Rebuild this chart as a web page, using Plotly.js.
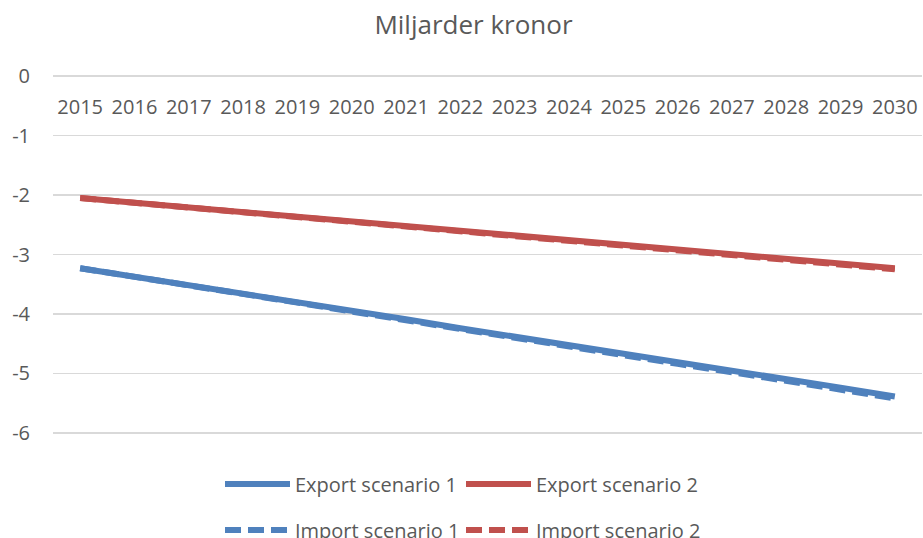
<!DOCTYPE html>
<html>
<head>
<meta charset="utf-8">
<script src="https://cdn.plot.ly/plotly-3.0.1.min.js"></script>
<style>html,body{margin:0;padding:0;background:#fff;}#chart{width:923px;height:538px;}</style>
</head>
<body>
<div id="chart"></div>
<script>
var years = ['2015','2016','2017','2018','2019','2020','2021','2022','2023','2024','2025','2026','2027','2028','2029','2030'];
var exportScenario1 = [-3.23,-3.37,-3.52,-3.66,-3.80,-3.95,-4.09,-4.24,-4.38,-4.52,-4.67,-4.81,-4.96,-5.10,-5.24,-5.39];
var importScenario1 = [-3.23,-3.37,-3.52,-3.67,-3.81,-3.96,-4.11,-4.25,-4.40,-4.54,-4.69,-4.84,-4.98,-5.13,-5.27,-5.42];
var exportScenario2 = [-2.05,-2.13,-2.21,-2.29,-2.37,-2.44,-2.52,-2.60,-2.68,-2.76,-2.84,-2.92,-3.00,-3.07,-3.15,-3.23];
var importScenario2 = [-2.05,-2.13,-2.21,-2.29,-2.37,-2.45,-2.53,-2.61,-2.69,-2.77,-2.85,-2.93,-3.01,-3.09,-3.17,-3.25];
var yTicks = [0,-1,-2,-3,-4,-5,-6];

var BLUE = '#4F81BD', RED = '#C0504D', TXT = '#595959';
var FONT = 'Open Sans, Lato, sans-serif';

var traces = [
  {name:'Export scenario 1', x:years, y:exportScenario1, type:'scatter', mode:'lines', line:{color:BLUE, width:6}, legend:'legend'},
  {name:'Export scenario 2', x:years, y:exportScenario2, type:'scatter', mode:'lines', line:{color:RED, width:6}, legend:'legend'},
  {name:'Import scenario 1', x:years, y:importScenario1, type:'scatter', mode:'lines', line:{color:BLUE, width:6, dash:'16px,7px'}, legend:'legend2'},
  {name:'Import scenario 2', x:years, y:importScenario2, type:'scatter', mode:'lines', line:{color:RED, width:6, dash:'16px,7px'}, legend:'legend2'}
];

var legendBase = {
  orientation:'h', xref:'container', yref:'container', xanchor:'left', yanchor:'middle',
  font:{family:FONT, size:20, color:TXT}, bgcolor:'rgba(0,0,0,0)', itemwidth:65,
  entrywidth:161, traceorder:'normal', itemclick:false
};

var layout = {
  width:923, height:538,
  margin:{l:53, r:1, t:75, b:104, pad:0},
  paper_bgcolor:'#fff', plot_bgcolor:'#fff',
  font:{family:FONT, size:20, color:TXT},
  showlegend:true,
  title:{text:'Miljarder kronor', font:{family:FONT, size:26, color:TXT}, xref:'container', x:473.5/923, xanchor:'center', yref:'container', y:1-25/538, yanchor:'middle'},
  xaxis:{type:'category', range:[-0.5,15.5], side:'bottom', anchor:'free', position:1, ticks:'', showline:false, showgrid:false, zeroline:false, ticklabelstandoff:18, tickfont:{family:FONT, size:20, color:TXT}, fixedrange:true},
  yaxis:{range:[-6.02,0.02], tickvals:yTicks, ticktext:yTicks.map(String), showline:false, zeroline:false, gridcolor:'#D9D9D9', gridwidth:1.5, ticks:'', ticklabelstandoff:22, tickfont:{family:FONT, size:20, color:TXT}, fixedrange:true},
  legend:Object.assign({}, legendBase, {x:220/923, y:1-484/538}),
  legend2:Object.assign({}, legendBase, {x:220/923, y:1-530/538})
};

Plotly.newPlot('chart', traces, layout, {displayModeBar:false, staticPlot:true});
</script>
</body>
</html>
